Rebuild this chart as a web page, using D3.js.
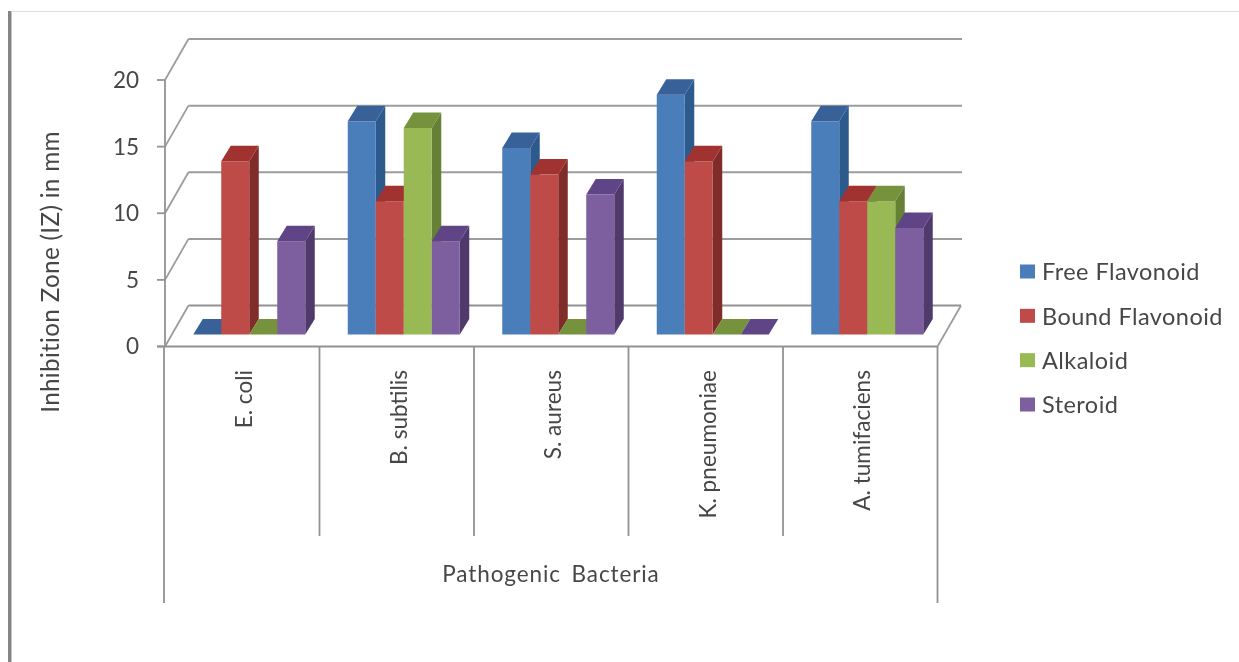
<!DOCTYPE html>
<html><head><meta charset="utf-8">
<script src="https://cdn.jsdelivr.net/npm/d3@7"></script>
<style>html,body{margin:0;padding:0;background:#fff}svg{display:block}text{font-family:Lato,"Open Sans",sans-serif;fill:#474747}</style>
</head><body><div id="c"></div>
<script>
const categories = ["E. coli","B. subtilis","S. aureus","K. pneumoniae","A. tumifaciens"];
const seriesNames = ["Free Flavonoid","Bound Flavonoid","Alkaloid","Steroid"];
const freeFlavonoid = [0,16,14,18,16];
const boundFlavonoid = [13,10,12,13,10];
const alkaloid = [0,15.5,0,0,10];
const steroid = [7,7,10.5,0,8];
const yTicks = [0,5,10,15,20];
const frontColors = ["#4a7ebb","#be4b48","#98b954","#7d5fa0"];
const topColors = ["#38619a","#a0322f","#76923c","#5f4585"];
const sideColors = ["#2c5a8c","#7f2c2a","#668036","#4f3a6b"];
const seriesValues = [freeFlavonoid,boundFlavonoid,alkaloid,steroid];

const W=1239,H=662;
const svg=d3.select("#c").append("svg").attr("width",W).attr("height",H);
const root=svg.append("g").style("filter","blur(0.6px)");
const grid="#9c9c9c", axisC="#929292";

// page frame
root.append("rect").attr("x",8).attr("y",11).attr("width",3.5).attr("height",651).attr("fill","#858585");
root.append("line").attr("x1",11).attr("x2",W).attr("y1",11.5).attr("y2",11.5).attr("stroke","#dedede");

const y=d3.scaleLinear().domain([0,20]).range([346.5,80]);
const x0=d3.scaleBand().domain(categories).range([165,937.5]);
const x1=d3.scaleBand().domain(seriesNames).range([0,112]);
const wallDx=23.5, wallDy=-41;
const barDx=9.5, barDy=-15.5, baseLift=-12;

// back wall gridlines and left-wall diagonals
yTicks.forEach(t=>{
  const yy=y(t);
  root.append("line").attr("x1",x0.range()[0]+wallDx).attr("x2",x0.range()[1]+wallDx+(t===0?0:1))
    .attr("y1",yy+wallDy).attr("y2",yy+wallDy).attr("stroke",t===0?axisC:grid).attr("stroke-width",2);
  root.append("line").attr("x1",x0.range()[0]).attr("x2",x0.range()[0]+wallDx)
    .attr("y1",yy).attr("y2",yy+wallDy).attr("stroke",grid).attr("stroke-width",1.8);
});
// floor right edge
root.append("line").attr("x1",x0.range()[1]).attr("x2",x0.range()[1]+wallDx)
  .attr("y1",y(0)).attr("y2",y(0)+wallDy).attr("stroke",grid).attr("stroke-width",1.8);

// bars
categories.forEach((c,ci)=>{
  const groupLeft=x0(c)+(x0.bandwidth()-x1.range()[1])/2+7;
  seriesNames.forEach((s,si)=>{
    const v=seriesValues[si][ci];
    const l=groupLeft+x1(s), r=l+x1.bandwidth();
    const b=y(0)+baseLift, t=y(v)+baseLift;
    const g=root.append("g");
    const poly=(pts,f)=>g.append("polygon").attr("points",pts.map(p=>p.join(",")).join(" ")).attr("fill",f);
    if(v>0){
      poly([[r,b],[r+barDx,b+barDy],[r+barDx,t+barDy],[r,t]],sideColors[si]);
      g.append("rect").attr("x",l).attr("y",t).attr("width",r-l).attr("height",b-t).attr("fill",frontColors[si]);
    }
    poly([[l,t],[r,t],[r+barDx,t+barDy],[l+barDx,t+barDy]],topColors[si]);
  });
});

// front axis
root.append("line").attr("x1",157).attr("x2",x0.range()[1]).attr("y1",y(0)).attr("y2",y(0)).attr("stroke",axisC).attr("stroke-width",2);
root.append("line").attr("x1",x0.range()[0]).attr("x2",x0.range()[0]).attr("y1",y(20)).attr("y2",y(0)).attr("stroke",axisC).attr("stroke-width",1.8);
yTicks.forEach(t=>{
  root.append("line").attr("x1",157).attr("x2",x0.range()[0]).attr("y1",y(t)).attr("y2",y(t)).attr("stroke",axisC).attr("stroke-width",1.8);
  root.append("text").attr("x",139).attr("y",y(t)).attr("dy","0.35em").attr("text-anchor","end").attr("font-size",22.5).text(t);
});
// multi-level category separators
categories.forEach((c,i)=>{
  const xx=x0(c);
  const outer=i===0;
  root.append("line").attr("x1",xx-(outer?1:0)).attr("x2",xx-(outer?1:0)).attr("y1",y(0)).attr("y2",outer?603:536).attr("stroke",axisC).attr("stroke-width",1.8);
  root.append("text").attr("transform",`translate(${xx+x0.bandwidth()/2+10},370) rotate(-90)`).attr("text-anchor","end").attr("font-size",22.6).text(c);
});
root.append("line").attr("x1",x0.range()[1]).attr("x2",x0.range()[1]).attr("y1",y(0)).attr("y2",603).attr("stroke",axisC).attr("stroke-width",1.8);

root.append("text").attr("x",551).attr("y",581.5).attr("text-anchor","middle").attr("font-size",22.5).style("word-spacing","4px").style("letter-spacing","0.9px").text("Pathogenic Bacteria");
root.append("text").attr("transform","translate(59,272) rotate(-90)").attr("text-anchor","middle").attr("font-size",24.3).style("letter-spacing","0.3px").text("Inhibition Zone (IZ) in mm");

// legend
const legendY=d3.scalePoint().domain(seriesNames).range([272,405]);
seriesNames.forEach((s,i)=>{
  root.append("rect").attr("x",1020).attr("y",legendY(s)-7.5).attr("width",15).attr("height",14).attr("fill",frontColors[i]);
  root.append("text").attr("x",1042).attr("y",legendY(s)).attr("dy","0.35em").attr("font-size",23.5).style("letter-spacing","0.45px").text(s);
});
</script></body></html>
